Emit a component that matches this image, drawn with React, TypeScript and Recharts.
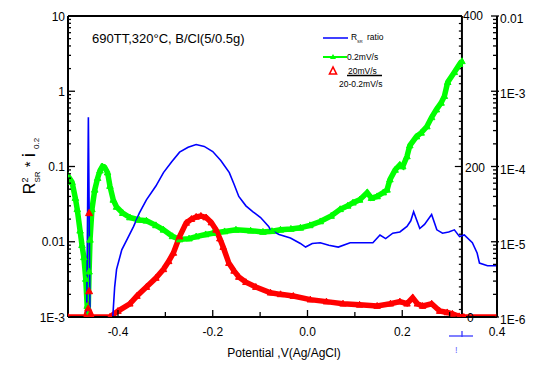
import React from 'react'
import { ComposedChart, Line, XAxis, YAxis, ReferenceLine } from 'recharts'

// R_SR ratio (blue)
const ratioPotential = [
  -0.466, -0.4625, -0.459, -0.44, -0.411, -0.407, -0.403, -0.392, -0.38, -0.367, -0.355, -0.34, -0.32,
  -0.304, -0.287, -0.27, -0.252, -0.235, -0.218, -0.2, -0.183, -0.165, -0.155, -0.145, -0.13, -0.115,
  -0.099, -0.082, -0.078, -0.06, -0.036, -0.015, -0.004, 0.01, 0.027, 0.045, 0.065, 0.09, 0.111, 0.138,
  0.153, 0.165, 0.18, 0.195, 0.21, 0.218, 0.224, 0.231, 0.237, 0.247, 0.262, 0.273, 0.285, 0.298, 0.31,
  0.321, 0.331, 0.348, 0.358, 0.363, 0.38, 0.4,
]
const ratioValue = [
  0.001, 0.45, 0.001, null, 0.001, 0.0025, 0.0043, 0.0078, 0.011, 0.016, 0.024, 0.036, 0.055,
  0.083, 0.115, 0.155, 0.18, 0.196, 0.185, 0.158, 0.12, 0.083, 0.058, 0.04, 0.03, 0.025,
  0.021, 0.016, 0.0144, 0.0125, 0.0112, 0.0095, 0.0085, 0.0095, 0.0097, 0.009, 0.0085, 0.0097, 0.0097, 0.0097,
  0.0123, 0.011, 0.013, 0.0135, 0.016, 0.019, 0.025, 0.019, 0.015, 0.017, 0.023, 0.0144, 0.013, 0.0135, 0.0144,
  0.0117, 0.0123, 0.0097, 0.0071, 0.0052, 0.0048, 0.0048,
]

// 0.2 mV/s (green)
const slowPotential = [
  -0.5055, -0.497, -0.49, -0.486, -0.48, -0.476, -0.472, -0.468, -0.465, -0.463, -0.461, -0.459, -0.455,
  -0.449, -0.443, -0.438, -0.433, -0.428, -0.422, -0.417, -0.41, -0.403, -0.39, -0.375, -0.355, -0.34,
  -0.32, -0.304, -0.285, -0.27, -0.25, -0.235, -0.215, -0.2, -0.175, -0.151, -0.12, -0.094, -0.075,
  -0.057, -0.035, -0.015, 0.005, 0.027, 0.05, 0.069, 0.085, 0.096, 0.11, 0.126, 0.135, 0.147, 0.16,
  0.168, 0.174, 0.185, 0.195, 0.201, 0.21, 0.216, 0.23, 0.24, 0.252, 0.262, 0.272, 0.282, 0.289, 0.296,
  0.31, 0.321, 0.326,
]
const slowValue = [
  0.075, 0.062, 0.038, 0.027, 0.014, 0.009, 0.0062, 0.0032, 0.0014, 0.0011, 0.004, 0.0106, 0.027,
  0.049, 0.07, 0.088, 0.1, 0.097, 0.083, 0.055, 0.036, 0.029, 0.024, 0.021, 0.0195, 0.019,
  0.0165, 0.0144, 0.0118, 0.0107, 0.011, 0.0117, 0.0125, 0.013, 0.0137, 0.0144, 0.014, 0.0135, 0.0138,
  0.0144, 0.0148, 0.0153, 0.0165, 0.0186, 0.022, 0.027, 0.03, 0.033, 0.036, 0.045, 0.038, 0.04, 0.045,
  0.049, 0.067, 0.09, 0.105, 0.1, 0.136, 0.19, 0.25, 0.28, 0.34, 0.45, 0.57, 0.7, 0.86, 1.32,
  1.79, 2.29, 2.5,
]

// 20 mV/s (red)
const fastPotential = [
  -0.5055, -0.468, -0.463, -0.458, -0.455, -0.417, -0.4, -0.375, -0.36, -0.34, -0.32, -0.304, -0.293,
  -0.283, -0.27, -0.256, -0.245, -0.235, -0.225, -0.214, -0.203, -0.193, -0.185, -0.178, -0.166, -0.155,
  -0.145, -0.13, -0.109, -0.078, -0.057, -0.03, 0.006, 0.04, 0.075, 0.11, 0.147, 0.175, 0.195, 0.21,
  0.222, 0.232, 0.243, 0.262, 0.279, 0.295, 0.306, 0.32, 0.33, 0.4,
]
const fastValue = [
  0.001, 0.001, 0.0013, 0.0011, 0.001, 0.001, 0.0012, 0.0015, 0.0019, 0.0025, 0.0033, 0.0043, 0.0055,
  0.0071, 0.0117, 0.0178, 0.02, 0.0214, 0.022, 0.021, 0.018, 0.0144, 0.011, 0.0085, 0.0052, 0.0041,
  0.0034, 0.0029, 0.0025, 0.0021, 0.002, 0.0019, 0.0017, 0.0016, 0.0015, 0.00145, 0.0014, 0.0015, 0.0016, 0.0015,
  0.0018, 0.0015, 0.0014, 0.0015, 0.0012, 0.00115, 0.0011, 0.00102, 0.001, 0.001,
]
const spikePotential = [-0.461, -0.461]
const spikeValue = [0.0022, 0.024]

const xTicks = [-0.4, -0.3, -0.2, -0.1, 0, 0.1, 0.2, 0.3, 0.4]
const xLabels = ['-0.4', '', '-0.2', '', '0.0', '', '0.2', '', '0.4']
const leftLabels = ['1E-3', '0.01', '0.1', '1', '10']
const rightLabels = ['1E-6', '1E-5', '1E-4', '1E-3', '0.01']
// inner linear axis (0..400) sits on the same plot height as the log axis
const midTicks = Array.from({ length: 41 }, (_, i) => i * 10)
const midLabels = ['0', '200', '400']
const MID_MAX = 400

const X_DOMAIN: [number, number] = [-0.5055, 0.4]
const MID_X = 0.326
const FONT = '"Liberation Sans", Arial, sans-serif'

const toPts = (xs: number[], ys: (number | null)[]) => xs.map((x, i) => ({ x, y: ys[i] }))
const ratioData = toPts(ratioPotential, ratioValue)
const slowData = toPts(slowPotential, slowValue)
const fastData = toPts(fastPotential, fastValue)
const spikeData = toPts(spikePotential, spikeValue)

// map the linear 0..400 range onto the 4-decade left log axis
const linToLog = (v: number) => 0.001 * Math.pow(10, (4 * v) / MID_MAX)

const logTicks = (lo: number, decades: number) => {
  const out: number[] = []
  for (let d = 0; d < decades; d++) {
    const base = lo * Math.pow(10, d)
    for (let m = 1; m < 10; m++) out.push(base * m)
  }
  out.push(lo * Math.pow(10, decades))
  return out
}
const leftTicks = logTicks(0.001, 4)
const rightTicks = logTicks(1e-6, 4)

const decadeIndex = (v: number, lo: number) => {
  const l = Math.log10(v / lo)
  return Math.abs(l - Math.round(l)) < 1e-6 ? Math.round(l) : -1
}

const LeftTick = (props: any) => {
  const { x, y, payload } = props
  const k = decadeIndex(payload.value, 0.001)
  const len = k >= 0 ? 7 : 3
  return (
    <g>
      <line x1={x} x2={x + len} y1={y} y2={y} stroke="#000" strokeWidth={1.3} />
      {k >= 0 && (
        <text x={x - 3} y={y + 4.5} textAnchor="end" fontSize={12} fontFamily={FONT} fill="#000">
          {leftLabels[k]}
        </text>
      )}
    </g>
  )
}

const RightTick = (props: any) => {
  const { x, y, payload } = props
  const k = decadeIndex(payload.value, 1e-6)
  const len = k >= 0 ? 6 : 4
  return (
    <g>
      <line x1={x - len} x2={x + (k >= 0 ? 2 : 0)} y1={y} y2={y} stroke="#000" strokeWidth={1.3} />
      {k >= 0 && (
        <text x={x + 3} y={y + 7} fontSize={12} fontFamily={FONT} fill="#000">
          {rightLabels[k]}
        </text>
      )}
    </g>
  )
}

const BottomTick = (props: any) => {
  const { x, y, index } = props
  const label = xLabels[index]
  const len = label ? 7 : 5
  return (
    <g>
      <line x1={x} x2={x} y1={y} y2={y - len} stroke="#000" strokeWidth={1.3} />
      {label && (
        <text x={x} y={y + 19} textAnchor="middle" fontSize={12} fontFamily={FONT} fill="#000">
          {label}
        </text>
      )}
    </g>
  )
}

const TopTick = (props: any) => {
  const { x, y, index } = props
  const len = xLabels[index] ? 7 : 5
  return <line x1={x} x2={x} y1={y} y2={y + len} stroke="#000" strokeWidth={1.3} />
}

const triangle = (color: string, size: number) => (p: any) => {
  const { cx, cy, index } = p
  if (cx == null || cy == null || p.value == null) return <g key={index} />
  const h = size * 0.9
  return (
    <polygon
      key={index}
      points={`${cx},${cy - h * 0.6} ${cx - size / 2},${cy + h * 0.4} ${cx + size / 2},${cy + h * 0.4}`}
      fill={color}
      stroke={color}
    />
  )
}

export default function App() {
  const axisLine = { stroke: '#000', strokeWidth: 2 }
  return (
    <div style={{ position: 'fixed', left: 0, top: 0, width: 535, height: 367, background: '#fff' }}>
      <ComposedChart
        width={535}
        height={367}
        margin={{ top: 16, right: 0, bottom: 30, left: 0 }}
        style={{ fontFamily: FONT }}
      >
        <XAxis
          dataKey="x"
          type="number"
          domain={X_DOMAIN}
          ticks={xTicks}
          interval={0}
          height={20}
          tickSize={0}
          tickMargin={0}
          tickLine={false}
          axisLine={axisLine}
          tick={BottomTick}
          allowDataOverflow
        />
        <XAxis
          xAxisId="top"
          orientation="top"
          dataKey="x"
          type="number"
          domain={X_DOMAIN}
          ticks={xTicks}
          interval={0}
          height={0}
          tickSize={0}
          tickMargin={0}
          tickLine={false}
          axisLine={false}
          tick={TopTick}
          allowDataOverflow
        />
        <YAxis
          scale="log"
          type="number"
          domain={[0.001, 10]}
          ticks={leftTicks}
          interval={0}
          width={68}
          tickSize={0}
          tickMargin={0}
          tickLine={false}
          axisLine={axisLine}
          tick={LeftTick}
          allowDataOverflow
        />
        <YAxis
          yAxisId="r"
          orientation="right"
          scale="log"
          type="number"
          domain={[1e-6, 0.01]}
          ticks={rightTicks}
          interval={0}
          width={38}
          tickSize={0}
          tickMargin={0}
          tickLine={false}
          axisLine={axisLine}
          tick={RightTick}
          allowDataOverflow
        />

        <ReferenceLine
          segment={[{ x: X_DOMAIN[0], y: 10 }, { x: MID_X, y: 10 }]}
          stroke="#000"
          strokeWidth={2}
        />
        <ReferenceLine x={MID_X} stroke="#000" strokeWidth={2} />
        {midTicks.map((v) => (
          <ReferenceLine
            key={v}
            segment={[
              { x: MID_X - (v % 200 === 0 ? 0.015 : 0.0065), y: linToLog(v) },
              { x: MID_X, y: linToLog(v) },
            ]}
            stroke="#000"
            strokeWidth={1.2}
          />
        ))}

        <Line
          data={slowData}
          dataKey="y"
          stroke="#00ff00"
          strokeWidth={5.5}
          dot={triangle('#00ff00', 6.5)}
          isAnimationActive={false}
          connectNulls={false}
        />
        <Line
          data={fastData}
          dataKey="y"
          stroke="#ff0000"
          strokeWidth={5.5}
          dot={triangle('#ff0000', 6.5)}
          isAnimationActive={false}
        />
        <Line
          data={spikeData}
          dataKey="y"
          stroke="none"
          dot={triangle('#ff0000', 7)}
          isAnimationActive={false}
        />
        <Line
          data={ratioData}
          dataKey="y"
          stroke="#0000ff"
          strokeWidth={1.6}
          dot={false}
          isAnimationActive={false}
          connectNulls={false}
        />
      </ComposedChart>

      <svg
        width={535}
        height={367}
        style={{ position: 'absolute', left: 0, top: 0, pointerEvents: 'none' }}
        fontFamily={FONT}
      >
        <text x={92} y={43} fontSize={13} fill="#000">690TT,320°C, B/Cl(5/0.5g)</text>

        <line x1={323} x2={348} y1={38} y2={38} stroke="#0000ff" strokeWidth={1.5} />
        <text x={351} y={40} fontSize={8.5} fill="#000">R</text>
        <text x={357} y={43} fontSize={4} fill="#000">SR</text>
        <text x={367} y={40} fontSize={8.5} fill="#000">ratio</text>

        <line x1={323} x2={347} y1={57} y2={57} stroke="#00ff00" strokeWidth={2} />
        <polygon points="333,54 330,59 336,59" fill="#00ff00" />
        <text x={347} y={60} fontSize={8.5} fill="#000">0.2mV/s</text>

        <polygon points="333,67 329.5,74 336.5,74" fill="none" stroke="#ff0000" strokeWidth={1.6} />
        <text x={348} y={73.5} fontSize={8.5} fill="#000">20mV/s</text>
        <line x1={347} x2={382} y1={75.5} y2={75.5} stroke="#000" strokeWidth={1.3} />
        <text x={339} y={86.5} fontSize={8.5} fill="#000">20-0.2mV/s</text>

        <text x={463} y={20} fontSize={12} fill="#000">{midLabels[2]}</text>
        <text x={465} y={172} fontSize={12} fill="#000">{midLabels[1]}</text>
        <text x={467} y={322} fontSize={12} fill="#000">{midLabels[0]}</text>

        <text x={284} y={357} textAnchor="middle" fontSize={12} fill="#000">
          Potential ,V(Ag/AgCl)
        </text>

        <text transform="translate(35,166) rotate(-90)" textAnchor="middle" fontSize={16} fill="#000">
          <tspan>R</tspan>
          <tspan fontSize={9} dy={-7}>2</tspan>
          <tspan fontSize={8} dx={-5} dy={12}>SR</tspan>
          <tspan fontSize={15} dy={-5}>  *  </tspan>
          <tspan fontSize={19}>i</tspan>
          <tspan fontSize={8} dx={4} dy={4}>0.2</tspan>
        </text>

        <line x1={449} x2={473} y1={336} y2={336} stroke="#3a3aff" strokeWidth={1.3} />
        <line x1={462} x2={462} y1={331} y2={337} stroke="#3a3aff" strokeWidth={1.3} />
        <text x={455} y={353} fontSize={9} fill="#6060ff">!</text>
      </svg>
    </div>
  )
}
